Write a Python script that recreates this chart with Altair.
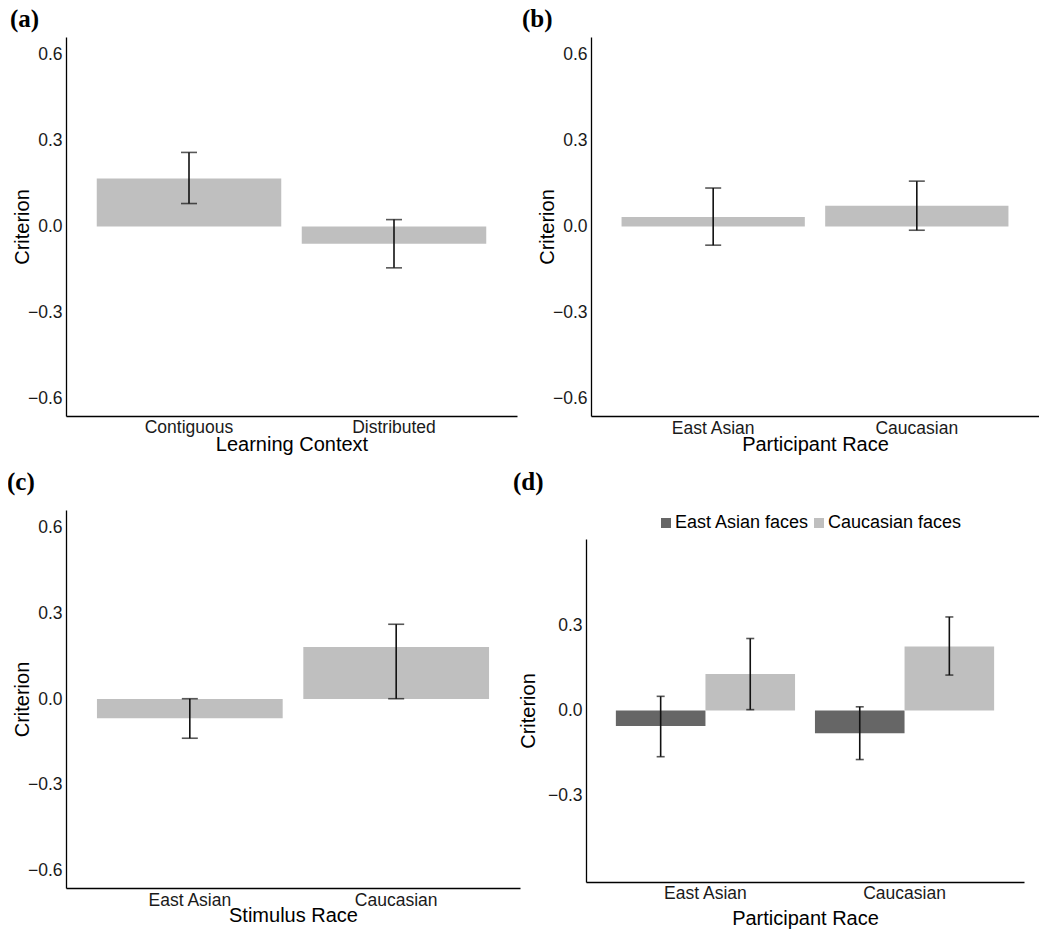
import altair as alt
import pandas as pd

# ---------------- data ----------------
ctx_cats = ["Contiguous", "Distributed"]
ctx_mean = [0.167, -0.060]
ctx_lo = [0.080, -0.144]
ctx_hi = [0.258, 0.024]

prace_cats = ["East Asian", "Caucasian"]
prace_mean = [0.033, 0.072]
prace_lo = [-0.065, -0.013]
prace_hi = [0.134, 0.158]

srace_cats = ["East Asian", "Caucasian"]
srace_mean = [-0.067, 0.182]
srace_lo = [-0.137, 0.001]
srace_hi = [0.001, 0.261]

face_groups = ["East Asian faces", "Caucasian faces"]
int_participant = ["East Asian", "East Asian", "Caucasian", "Caucasian"]
int_face = ["East Asian faces", "Caucasian faces", "East Asian faces", "Caucasian faces"]
int_mean = [-0.055, 0.129, -0.080, 0.226]
int_lo = [-0.163, 0.003, -0.173, 0.125]
int_hi = [0.050, 0.254, 0.013, 0.330]

y_ticks_full = [-0.6, -0.3, 0.0, 0.3, 0.6]
y_ticks_int = [-0.3, 0.0, 0.3]

# ---------------- style ----------------
FONT = "Liberation Sans"
SERIF = "Liberation Serif"
BAR_LIGHT = "#bfbfbf"
BAR_DARK = "#666666"
INK = "#111111"


def panel_title(text, dx, offset):
    return alt.TitleParams(
        text, anchor="start", frame="group", font=SERIF, fontWeight="bold",
        fontSize=25, color="black", dx=dx, offset=offset,
    )


def y_axis(values, title_pad):
    return alt.Axis(values=values, format=".1f", title="Criterion", ticks=False,
                    grid=False, labelPadding=4, titlePadding=title_pad)


def simple_panel(cats, mean, lo, hi, xtitle, label, width, height,
                 label_dx, label_offset, x_label_pad, x_title_pad):
    df = pd.DataFrame({"cat": cats, "mean": mean, "lo": lo, "hi": hi})
    xscale = alt.Scale(paddingInner=0.1, paddingOuter=0.15)
    x = alt.X("cat:N", sort=cats, title=xtitle, scale=xscale,
              axis=alt.Axis(labelAngle=0, ticks=False, labelPadding=x_label_pad,
                            titlePadding=x_title_pad))
    xs = alt.X("cat:N", sort=cats)
    yscale = alt.Scale(domain=[-0.66, 0.66], nice=False, zero=False)
    base = alt.Chart(df)
    bars = base.mark_bar(color=BAR_LIGHT).encode(
        x=x, y=alt.Y("mean:Q", scale=yscale, axis=y_axis(y_ticks_full, -5)),
        y2=alt.datum(0))
    rules = base.mark_rule(color=INK, strokeWidth=1.6).encode(x=xs, y="lo:Q", y2="hi:Q")
    cap_hi = base.mark_tick(color=INK, thickness=1.6, size=16).encode(x=xs, y="hi:Q")
    cap_lo = base.mark_tick(color=INK, thickness=1.6, size=16).encode(x=xs, y="lo:Q")
    return alt.layer(bars, rules, cap_hi, cap_lo).properties(
        width=width, height=height, title=panel_title(label, label_dx, label_offset))


panel_a = simple_panel(ctx_cats, ctx_mean, ctx_lo, ctx_hi, "Learning Context", "(a)",
                       451, 379, -56, 5, 2, -1)
panel_b = simple_panel(prace_cats, prace_mean, prace_lo, prace_hi, "Participant Race", "(b)",
                       448, 379, -69, 5, 3, -2)
panel_c = simple_panel(srace_cats, srace_mean, srace_lo, srace_hi, "Stimulus Race", "(c)",
                       454, 378, -59, 15, 3, -3)

# ---- panel d ----
D_H = 372
D_TOP = 29
df_d = pd.DataFrame({"participant": int_participant, "face": int_face,
                     "mean": int_mean, "lo": int_lo, "hi": int_hi})
xd = alt.X("participant:N", sort=prace_cats, title="Participant Race",
           scale=alt.Scale(paddingInner=0.1, paddingOuter=0.15),
           axis=alt.Axis(labelAngle=0, ticks=False, labelPadding=2, titlePadding=7))
xds = alt.X("participant:N", sort=prace_cats)
xoff = alt.XOffset("face:N", sort=face_groups,
                   scale=alt.Scale(domain=face_groups, paddingInner=0, paddingOuter=0))
yscale_d = alt.Scale(domain=[-0.605, 0.605], range=[D_H, D_TOP], nice=False, zero=False)
base_d = alt.Chart(df_d)
bars_d = base_d.mark_bar().encode(
    x=xd, xOffset=xoff,
    y=alt.Y("mean:Q", scale=yscale_d, axis=y_axis(y_ticks_int, 9)),
    y2=alt.datum(0),
    color=alt.Color("face:N", scale=alt.Scale(domain=face_groups, range=[BAR_DARK, BAR_LIGHT]),
                    legend=alt.Legend(orient="none", legendX=71, legendY=4,
                                      direction="horizontal", title=None,
                                      symbolType="square", symbolSize=100,
                                      symbolStrokeWidth=0, symbolOpacity=1,
                                      labelFontSize=18, labelOffset=0,
                                      columnPadding=0, padding=0, labelFont=FONT,
                                      labelColor="black")),
)
rules_d = base_d.mark_rule(color=INK, strokeWidth=1.6).encode(
    x=xds, xOffset=xoff, y="lo:Q", y2="hi:Q")
caphi_d = base_d.mark_tick(color=INK, thickness=1.6, size=8).encode(
    x=xds, xOffset=xoff, y="hi:Q")
caplo_d = base_d.mark_tick(color=INK, thickness=1.6, size=8).encode(
    x=xds, xOffset=xoff, y="lo:Q")
panel_d = alt.layer(bars_d, rules_d, caphi_d, caplo_d).properties(
    width=438, height=D_H, title=panel_title("(d)", -73, 15))

row1 = alt.hconcat(panel_a, panel_b, spacing=74, bounds="flush")
row2 = alt.hconcat(panel_c, panel_d, spacing=66, bounds="flush").resolve_scale(
    color="independent").resolve_legend(color="independent")

chart = alt.vconcat(row1, row2, spacing=15).resolve_scale(
    color="independent").resolve_legend(color="independent").properties(
    padding={"left": -1, "top": -1, "right": 0, "bottom": 0}, background="white"
).configure_axis(
    labelFont=FONT, titleFont=FONT, labelFontSize=17.5, titleFontSize=20,
    titleFontWeight="normal", labelColor="#1a1a1a", titleColor="black",
    domainColor="black", domainWidth=1.3, grid=False,
).configure_view(strokeWidth=0).configure_title(font=SERIF)

chart.save("out.html", embed_options={"renderer": "svg", "actions": False})
